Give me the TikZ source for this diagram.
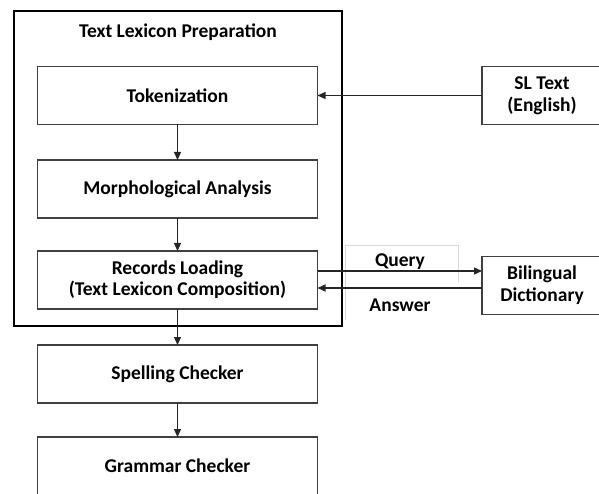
\documentclass[tikz,border=0pt]{standalone}
\usepackage{fontspec}
\setmainfont{Carlito}
\usetikzlibrary{arrows.meta,positioning}

\begin{document}
\begin{tikzpicture}[
    x=1pt, y=-1pt,
    node distance=34pt,
    stage/.style={rectangle, draw=black!75, line width=1.2pt, minimum width=280pt, minimum height=58pt, inner sep=0pt, outer sep=0pt, align=center, font=\fontsize{19.5}{21}\selectfont\bfseries},
    source/.style={rectangle, draw=black!75, line width=1.2pt, minimum width=120pt, minimum height=58pt, inner sep=0pt, outer sep=0pt, anchor=west, align=center, font=\fontsize{19.5}{22}\selectfont\bfseries},
    frame/.style={rectangle, draw=black, line width=2.8pt, minimum width=328pt, minimum height=315pt, inner sep=0pt},
    tag/.style={inner sep=0pt, font=\fontsize{19.5}{22}\selectfont\bfseries},
    arrow/.style={-{Triangle[length=8pt,width=7pt]}, line width=1.3pt, draw=black!85}
]
    \useasboundingbox (0,0) rectangle (599,494);

    % faint box behind the query / answer labels
    \draw [black!15, line width=0.8pt] (345,320) -- (345,245) -- (458,245) -- (458,282);

    \node [frame] (prep) at (178,168.5) {};
    \node [tag] (title) at (178,32) {Text Lexicon Preparation};

    \node [stage] (tok) at (177.5,95.5) {Tokenization};
    \node [stage, below=35.5pt of tok] (morph) {Morphological Analysis};
    \node [stage, below=33pt of morph] (rec) {Records Loading\\(Text Lexicon Composition)};
    \node [stage, below=36pt of rec] (spell) {Spelling Checker};
    \node [stage, below=34pt of spell] (gram) {Grammar Checker};

    \node [source] (sl) at (482,95.5) {SL Text\\(English)};
    \node [source] (dict) at (482,285.5) {Bilingual\\Dictionary};

    \node [tag] (qlabel) at (400,262) {Query};
    \node [tag] (alabel) at (400,305) {Answer};

    \draw [arrow] (sl) -- (tok);
    \draw [arrow] (tok) -- (morph);
    \draw [arrow] (morph) -- (rec);
    \draw [arrow] (rec) -- (spell);
    \draw [arrow] (spell) -- (gram);
    \draw [arrow] ([yshift=9pt]rec.east) -- ([yshift=9pt]rec.east -| dict.west);
    \draw [arrow] ([yshift=-8pt]rec.east -| dict.west) -- ([yshift=-8pt]rec.east);
\end{tikzpicture}
\end{document}
